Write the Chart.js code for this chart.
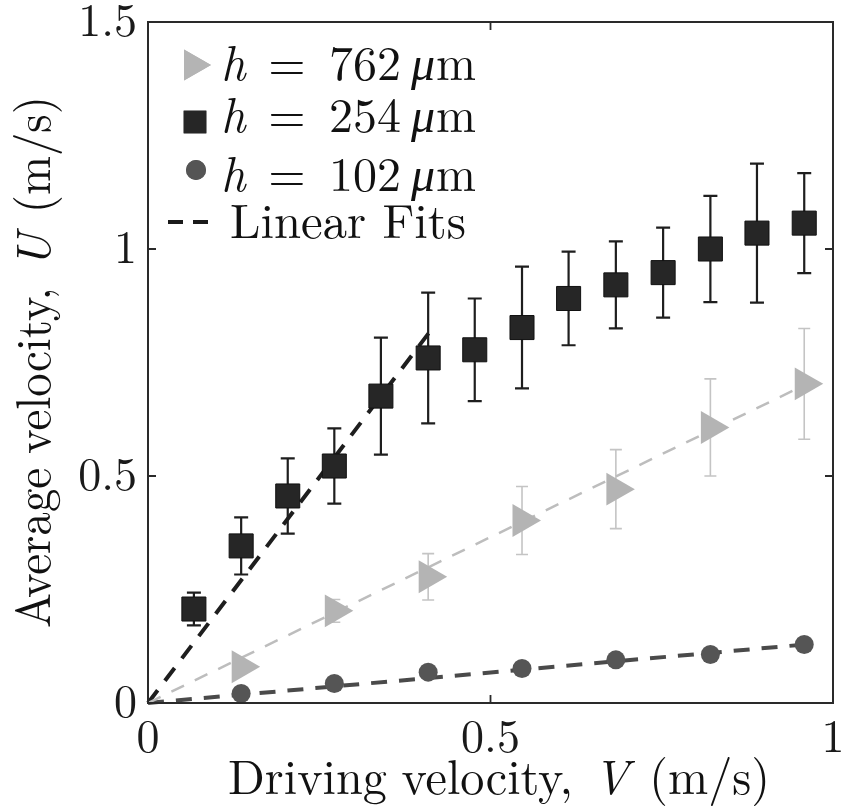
<!DOCTYPE html>
<html><head><meta charset="utf-8">
<script src="https://cdn.jsdelivr.net/npm/chart.js@4/dist/chart.umd.min.js"></script>
<style>html,body{margin:0;padding:0;background:#fff;}#wrap{width:852px;height:807px;}</style>
</head><body><div id="wrap"><canvas id="c" width="852" height="807"></canvas></div>
<script>
// ---- data ----
const driveV254 = [0.067,0.136,0.204,0.272,0.340,0.409,0.477,0.546,0.614,0.683,0.752,0.821,0.889,0.958];
const velU254   = [0.207,0.346,0.456,0.522,0.676,0.760,0.778,0.827,0.891,0.921,0.948,1.000,1.035,1.057];
const errU254   = [0.036,0.063,0.083,0.083,0.129,0.144,0.113,0.134,0.103,0.096,0.099,0.117,0.153,0.110];
const driveV762 = [0.136,0.272,0.409,0.546,0.683,0.821,0.958];
const velU762   = [0.080,0.203,0.278,0.402,0.471,0.607,0.703];
const errU762   = [0.010,0.025,0.051,0.075,0.087,0.107,0.122];
const driveV102 = [0.136,0.272,0.409,0.546,0.683,0.821,0.958];
const velU102   = [0.021,0.043,0.068,0.076,0.095,0.107,0.129];
const fitV254 = [0, 0.41],  fitU254 = [0, 0.815];
const fitV762 = [0, 0.958], fitU762 = [0, 0.70];
const fitV102 = [0, 0.975], fitU102 = [0, 0.131];
const xTicks = [0, 0.5, 1],      xTickLabels = ['0','0.5','1'];
const yTicks = [0, 0.5, 1, 1.5], yTickLabels = ['0','0.5','1','1.5'];
const seriesNames = ['h = 762 μm','h = 254 μm','h = 102 μm','Linear Fits'];
const xTitle = 'Driving velocity, V (m/s)';
const yTitle = 'Average velocity, U (m/s)';

const pts = (xs, ys) => xs.map((x,i)=>({x, y: ys[i]}));
const FONT = '"Latin Modern Roman", "Liberation Serif", "DejaVu Serif", serif';
const C_TRI = '#b4b4b4', C_SQ = '#262626', C_CIR = '#555555';

const italicTok = t => (t==='h' || t==='V' || t==='U');

function drawTitle(ctx, text, size, targetW) {
  const toks = text.split(' ');
  let w = 0;
  const parts = toks.map((t,i)=>{
    const it = italicTok(t);
    ctx.font = (it?'italic ':'') + size + 'px ' + FONT;
    const tw = ctx.measureText(t).width;
    const sp = i === 0 ? 0 : ((it || italicTok(toks[i-1])) ? size*0.42 : size*0.3);
    w += tw + sp;
    return {t, it, tw, sp};
  });
  const sx = targetW / w;
  ctx.save();
  ctx.scale(sx, 1);
  let cx = -w/2;
  ctx.textBaseline = 'alphabetic'; ctx.textAlign = 'left';
  parts.forEach(p=>{
    cx += p.sp;
    ctx.font = (p.it?'italic ':'') + size + 'px ' + FONT;
    ctx.fillText(p.t, cx, 0);
    cx += p.tw;
  });
  ctx.restore();
}

const decor = {
  id: 'decor',
  beforeDatasetsDraw(chart) {
    const ctx = chart.ctx, xs = chart.scales.x, ys = chart.scales.y;
    chart.data.datasets.forEach(ds=>{
      if (!ds.errors) return;
      ctx.save();
      ctx.strokeStyle = ds.errColor; ctx.lineWidth = ds.errWidth;
      ds.data.forEach((p,i)=>{
        const e = ds.errors[i];
        const px = xs.getPixelForValue(p.x);
        const y1 = ys.getPixelForValue(p.y + e), y2 = ys.getPixelForValue(p.y - e);
        ctx.beginPath();
        ctx.moveTo(px, y1); ctx.lineTo(px, y2);
        ctx.moveTo(px - ds.capW, y1); ctx.lineTo(px + ds.capW, y1);
        ctx.moveTo(px - ds.capW, y2); ctx.lineTo(px + ds.capW, y2);
        ctx.stroke();
      });
      ctx.restore();
    });
  },
  afterDraw(chart) {
    const ctx = chart.ctx, a = chart.chartArea, xs = chart.scales.x, ys = chart.scales.y;
    ctx.save();
    ctx.strokeStyle = '#2a2a2a'; ctx.lineWidth = 2;
    ctx.strokeRect(a.left, a.top, a.right - a.left, a.bottom - a.top);
    ctx.lineWidth = 1.8;
    ctx.beginPath();
    const TL = 8;
    xTicks.forEach(v=>{
      const px = xs.getPixelForValue(v);
      ctx.moveTo(px, a.bottom); ctx.lineTo(px, a.bottom - TL);
      ctx.moveTo(px, a.top); ctx.lineTo(px, a.top + TL);
    });
    yTicks.forEach(v=>{
      const py = ys.getPixelForValue(v);
      ctx.moveTo(a.left, py); ctx.lineTo(a.left + TL, py);
      ctx.moveTo(a.right, py); ctx.lineTo(a.right - TL, py);
    });
    ctx.stroke();

    // legend
    const lx = a.left, ly = a.top;
    const mk = [
      {style:'triangle', rot:90, r:18, c:C_TRI, x:lx+45, y:ly+43},
      {style:'rect', rot:0, r:16, c:C_SQ, x:lx+47, y:ly+100},
      {style:'circle', rot:0, r:10, c:C_CIR, x:lx+48, y:ly+148},
    ];
    mk.forEach(m=>{
      ctx.fillStyle = m.c; ctx.strokeStyle = m.c;
      Chart.helpers.drawPoint(ctx, {pointStyle:m.style, rotation:m.rot, radius:m.r, borderWidth:0}, m.x, m.y);
      ctx.fill();
    });
    ctx.strokeStyle = '#1a1a1a'; ctx.lineWidth = 4;
    ctx.beginPath();
    ctx.moveTo(lx+20, ly+200); ctx.lineTo(lx+35, ly+200);
    ctx.moveTo(lx+45, ly+200); ctx.lineTo(lx+60, ly+200);
    ctx.stroke();

    ctx.fillStyle = '#111'; ctx.textBaseline = 'alphabetic'; ctx.textAlign = 'left';
    const LS = 48;
    const baselines = [ly+58, ly+110, ly+169, ly+216];
    seriesNames.forEach((name,i)=>{
      const y = baselines[i];
      if (i < 3) {
        const toks = name.split(' ');
        const x0 = lx + 73;
        ctx.font = 'italic ' + LS + 'px ' + FONT; ctx.fillText(toks[0], x0, y);
        ctx.font = LS + 'px ' + FONT;
        ctx.textAlign = 'center'; ctx.fillText(toks[1], x0 + 66, y);
        ctx.textAlign = 'left'; ctx.fillText(toks[2], x0 + 108, y);
        const nw = ctx.measureText(toks[2]).width;
        const mx = x0 + 108 + nw + 10;
        ctx.font = 'italic ' + LS + 'px ' + FONT; ctx.fillText(toks[3][0], mx, y);
        const mw = ctx.measureText(toks[3][0]).width;
        ctx.font = LS + 'px ' + FONT; ctx.fillText(toks[3].slice(1), mx + mw + 1, y);
      } else {
        ctx.save();
        ctx.font = LS + 'px ' + FONT;
        const w = ctx.measureText(name).width;
        ctx.translate(lx+82, y); ctx.scale(236/w, 1);
        ctx.fillText(name, 0, 0);
        ctx.restore();
      }
    });

    ctx.fillStyle = '#111';
    ctx.save(); ctx.translate(499, 794); drawTitle(ctx, xTitle, 49, 542); ctx.restore();
    ctx.save(); ctx.translate(50, 362); ctx.rotate(-Math.PI/2); drawTitle(ctx, yTitle, 49, 532); ctx.restore();
    ctx.restore();
  }
};

function zeroPad(s) { s.paddingLeft = 0; s.paddingRight = 0; s.paddingTop = 0; s.paddingBottom = 0; }

function make() {
  new Chart(document.getElementById('c'), {
    type: 'scatter',
    data: {
      datasets: [
        {label: seriesNames[3], data: pts(fitV762, fitU762), showLine: true, pointRadius: 0, borderColor: '#bdbdbd', borderWidth: 2.5, borderDash: [14, 12], order: 10},
        {label: seriesNames[3], data: pts(fitV102, fitU102), showLine: true, pointRadius: 0, borderColor: '#4a4a4a', borderWidth: 4, borderDash: [16, 12], order: 10},
        {label: seriesNames[3], data: pts(fitV254, fitU254), showLine: true, pointRadius: 0, borderColor: '#1e1e1e', borderWidth: 4, borderDash: [16, 12], order: 10},
        {label: seriesNames[0], data: pts(driveV762, velU762), pointStyle: 'triangle', rotation: 90, pointRadius: 19, backgroundColor: C_TRI, borderWidth: 0,
         errors: errU762, errColor: '#c4c4c4', errWidth: 1.6, capW: 6, order: 1},
        {label: seriesNames[1], data: pts(driveV254, velU254), pointStyle: 'rect', pointRadius: 17, backgroundColor: C_SQ, borderColor: '#111', borderWidth: 1,
         errors: errU254, errColor: '#1e1e1e', errWidth: 2.2, capW: 7, order: 0},
        {label: seriesNames[2], data: pts(driveV102, velU102), pointStyle: 'circle', pointRadius: 9.5, backgroundColor: C_CIR, borderWidth: 0, order: 0},
      ]
    },
    options: {
      responsive: false, animation: false, devicePixelRatio: 1,
      layout: {padding: {top: 22, right: 14, left: 0, bottom: 0}},
      plugins: {legend: {display: false}, tooltip: {enabled: false}},
      elements: {point: {hoverRadius: 0}},
      datasets: {scatter: {clip: false}},
      scales: {
        x: {
          type: 'linear', min: 0, max: 1,
          afterBuildTicks: s => { s.ticks = xTicks.map(v=>({value: v})); },
          afterFit: s => { s.height = 104; zeroPad(s); },
          grid: {display: false, drawTicks: false},
          border: {display: false},
          ticks: {padding: 12, color: '#1a1a1a', font: {family: FONT, size: 46, lineHeight: 1},
                  callback: v => xTickLabels[xTicks.indexOf(v)], maxRotation: 0, autoSkip: false}
        },
        y: {
          type: 'linear', min: 0, max: 1.5,
          afterBuildTicks: s => { s.ticks = yTicks.map(v=>({value: v})); },
          afterFit: s => { s.width = 148; zeroPad(s); },
          grid: {display: false, drawTicks: false},
          border: {display: false},
          ticks: {padding: 11, color: '#1a1a1a', font: {family: FONT, size: 46, lineHeight: 1},
                  callback: v => yTickLabels[yTicks.indexOf(v)], autoSkip: false}
        }
      }
    },
    plugins: [decor]
  });
}

const loads = ['46px "Latin Modern Roman"', 'italic 46px "Latin Modern Roman"'].map(f => document.fonts.load(f).catch(()=>null));
Promise.all(loads).then(make, make);
</script></body></html>
